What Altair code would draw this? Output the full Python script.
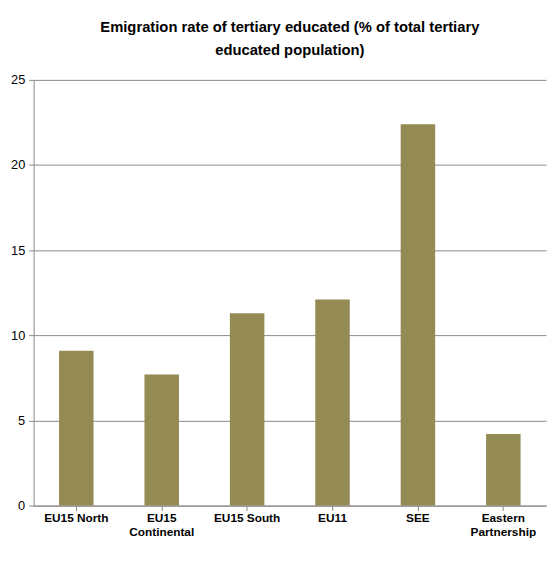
import altair as alt
import pandas as pd

regions = ["EU15 North", "EU15\nContinental", "EU15 South", "EU11", "SEE", "Eastern\nPartnership"]
rates = [9.1, 7.7, 11.3, 12.1, 22.4, 4.2]

df = pd.DataFrame({"region": regions, "rate": rates})
_FONT = "Liberation Sans Narrow, Liberation Sans, Arial"

chart = alt.Chart(df).mark_bar(color="#948A54", size=35).encode(
    x=alt.X("region:N", sort=regions, title=None,
            axis=alt.Axis(labelAngle=0, labelExpr="split(datum.label, '\\n')",
                          labelFontWeight="bold", labelFontSize=12, labelColor="black",
                          labelFont=_FONT, ticks=True, domainColor="#888", tickColor="#888")),
    y=alt.Y("rate:Q", title=None,
            scale=alt.Scale(domain=[0, 25]),
            axis=alt.Axis(values=[0, 5, 10, 15, 20, 25], labelFontSize=13, labelColor="black",
                          labelFont=_FONT, gridColor="#888", domainColor="#888",
                          tickColor="#888", labelPadding=4)),
).properties(
    width=520, height=432,
    title=alt.TitleParams(
        ["Emigration rate of tertiary educated (% of total tertiary", "educated population)"],
        font=_FONT, fontSize=15, fontWeight="bold", color="black", offset=16, lineHeight=24),
    padding={"left": 2, "top": 8, "right": 2, "bottom": 2},
).configure_view(stroke=None)

chart.save("out.html", embed_options={"renderer": "svg", "actions": False})
